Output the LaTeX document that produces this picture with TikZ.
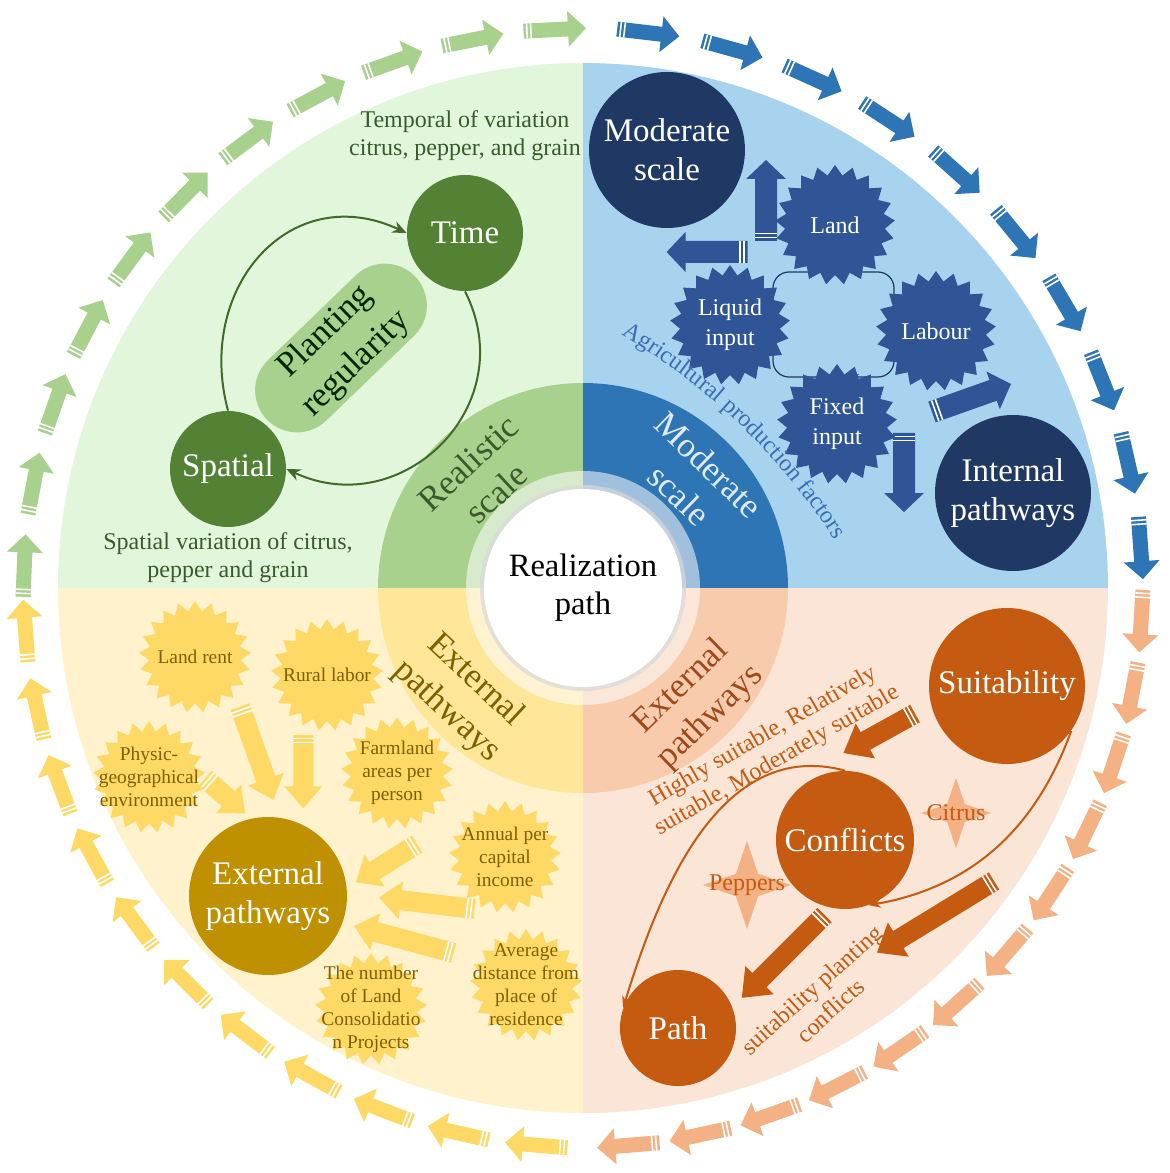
\documentclass[tikz,border=0pt]{standalone}
\usepackage{fontspec}
\setmainfont{Liberation Serif}
\usetikzlibrary{calc,positioning,arrows.meta,shapes.symbols,shapes.geometric,shapes.misc,decorations.text}

\definecolor{grnbg}{HTML}{E2F6DC}
\definecolor{grnring}{HTML}{A9D18E}
\definecolor{grndk}{HTML}{548235}
\definecolor{grntx}{HTML}{3B5A2B}
\definecolor{blubg}{HTML}{A7D3EF}
\definecolor{bluring}{HTML}{2E75B6}
\definecolor{bluarr}{HTML}{2E75B6}
\definecolor{navy}{HTML}{1F3864}
\definecolor{blustar}{HTML}{2F5597}
\definecolor{blutx}{HTML}{DEEBF7}
\definecolor{agritx}{HTML}{3A6DB3}
\definecolor{orgbg}{HTML}{FBE5D6}
\definecolor{orgring}{HTML}{F8CBAD}
\definecolor{orgdk}{HTML}{C55A11}
\definecolor{orgarr}{HTML}{F4B183}
\definecolor{orgtx}{HTML}{9C4A1A}
\definecolor{yelbg}{HTML}{FFF2CC}
\definecolor{yelring}{HTML}{FFE699}
\definecolor{yeldk}{HTML}{BF9000}
\definecolor{yelstar}{HTML}{FFD966}
\definecolor{yeltx}{HTML}{7F6000}

\newcommand{\fsz}[2]{\fontsize{#1}{#2}\selectfont}
% block arrow with striped tail: colour, tail, tip, half body, half head, head length
\newcommand{\blockarrow}[6]{%
  \coordinate (ba-t) at #2;
  \coordinate (ba-h) at #3;
  \coordinate (ba-b) at ($(ba-h)!#6!(ba-t)$);
  \coordinate (ba-s) at ($(ba-t)!1.7pt!(ba-h)$);
  \coordinate (ba-u) at ($(ba-t)!3.7pt!(ba-h)$);
  \fill[fill=#1] ($(ba-t)!#4!90:(ba-h)$) -- ($(ba-b)!#4!-90:(ba-t)$)
    -- ($(ba-b)!#5!-90:(ba-t)$) -- (ba-h) -- ($(ba-b)!#5!90:(ba-t)$)
    -- ($(ba-b)!#4!90:(ba-t)$) -- ($(ba-t)!#4!-90:(ba-h)$) -- cycle;
  \draw[white, line width=0.8pt] ($(ba-s)!#4!90:(ba-h)$) -- ($(ba-s)!#4!-90:(ba-h)$)
    ($(ba-u)!#4!90:(ba-h)$) -- ($(ba-u)!#4!-90:(ba-h)$);
}

\pgfdeclarelayer{front}
\pgfsetlayers{main,front}

\begin{document}
\begin{tikzpicture}[x=0.5pt, y=0.5pt,
  bigc/.style={circle, inner sep=0pt, text=white, align=center, font=\fsz{16.5}{19.5}},
  ringtx/.style={align=center, inner sep=0pt, font=\fsz{17.5}{21}},
  note/.style={align=center, inner sep=0pt, font=\fsz{12}{14}},
  burst/.style={starburst, starburst points=21, starburst point height=5pt, random starburst=0, inner sep=0pt, minimum size=#1},
  bursttx/.style={align=center, inner sep=0pt},
  fourstar/.style={star, star points=4, star point ratio=2.8, fill=orgarr, inner sep=0pt, minimum size=#1},
  pill/.style={rounded rectangle, fill=grnring, minimum width=105pt, minimum height=42pt, inner sep=1pt, align=center, font=\fsz{17.5}{22}, text=black!85!green},
  loopln/.style={draw=grndk!80!black, line width=1pt, -{Stealth[length=7pt,width=6pt]}},
  cyc/.style={draw=navy, line width=0.6pt, rounded corners=8pt, -{Stealth[length=4pt]}},
  orgln/.style={draw=orgdk, line width=1pt, -{Stealth[length=6pt]}}]
\useasboundingbox (-583,-585) rectangle (587,588);

\foreach \c/\a/\b in {blubg/0/90, grnbg/90/180, yelbg/180/270, orgbg/270/360}
  \fill[fill=\c] (0,0) -- (\a:525) arc (\a:\b:525) -- cycle;
\foreach \c/\a/\b in {bluring/0/90, grnring/90/180, yelring/180/270, orgring/270/360}
  \fill[fill=\c] (0,0) -- (\a:205) arc (\a:\b:205) -- cycle;
\fill[white, opacity=.55] (0,0) circle (117);
\draw[gray!30, line width=2pt, opacity=.7] (0,0) circle (101);
\node[circle, fill=white, minimum size=99pt, inner sep=0pt, align=center, font=\fsz{16.3}{19}] (realize) at (0,0) {Realization\\path};

% outer ring of arrows
\foreach \col/\a/\s/\n in {bluarr/83.3/8.8/9, orgarr/-3.4/7.45/11, yelstar/-94.8/8.08/10, grnring/177.7/8.48/10}
  \foreach \k in {0,...,\n}{
    \pgfmathsetmacro\ang{\a-\k*\s}
    \blockarrow{\col}{({\ang+3.2}:560)}{({\ang-3.2}:560)}{3.75pt}{9pt}{9pt}
  }

% green quadrant
\node[ringtx, text=grntx, rotate=43] (realistic) at (-101,110) {Realistic\\scale};
\node[note, text=grntx] (temporal) at (-118,452) {Temporal of variation\\citrus, pepper, and grain};
\node[note, text=grntx] (spatvar) at (-355,30) {Spatial variation of citrus,\\pepper and grain};
\node[pill, rotate=44] (planting) at (-242,240) {Planting\\regularity};
\node[bigc, fill=grndk, minimum size=58pt] (time) at (-118,355) {Time};
\node[bigc, fill=grndk, minimum size=58pt] (spatial) at (-355,119) {Spatial};
\path (spatial.north) edge[loopln, out=105, in=155, looseness=1.3] (time.west)
      (time.south) edge[loopln, out=-63, in=-25, looseness=1.3] (spatial.east);

% blue quadrant
\node[ringtx, text=blutx, rotate=-44] (moderate) at (111,108) {Moderate\\scale};
\node[bigc, fill=navy, minimum size=78pt] (modscale) at (84,438) {Moderate\\scale};
\node[bigc, fill=navy, minimum size=78pt] (internal) at (430,95) {Internal\\pathways};
\begin{pgfonlayer}{front}
\node[burst=60pt, fill=blustar] (land) at (252,363) {};
\node[burst=60pt, fill=blustar] (liquid) at (147,263) {};
\node[burst=60pt, fill=blustar] (labour) at (353,257) {};
\node[burst=60pt, fill=blustar] (fixed) at (254,164) {};
\node[bursttx, text=white, font=\fsz{12}{15}] (land-t) at (land) {Land};
\node[bursttx, text=white, font=\fsz{12}{15}] (liquid-t) at (liquid) {Liquid\\input};
\node[bursttx, text=white, font=\fsz{12}{15}] (labour-t) at (labour) {Labour};
\node[bursttx, text=white, font=\fsz{12}{15}] (fixed-t) at (fixed) {Fixed\\input};
\path[decorate, decoration={text along path, text align=center,
  text={|\fsz{12}{14}\color{agritx}|Agricultural production factors}}] (-288,-298) ++(62:641) arc (62:30:641);
\end{pgfonlayer}
\draw[cyc] ($(liquid)+(43,12)$) |- ($(land)+(-16,-47)$);
\draw[cyc] ($(land)+(16,-47)$) -| ($(labour)+(-42,16)$);
\draw[cyc] ($(labour)+(-42,-14)$) |- ($(fixed)+(14,47)$);
\draw[cyc] ($(fixed)+(-18,47)$) -| ($(liquid)+(43,-12)$);
\blockarrow{blustar}{(183,347)}{(183,428)}{5.5pt}{10pt}{9.5pt}
\blockarrow{blustar}{(164.5,336)}{(83.6,336)}{5.5pt}{10pt}{9.5pt}
\blockarrow{blustar}{(349,176)}{(428,204)}{5.5pt}{10pt}{9.5pt}
\blockarrow{blustar}{(321,155)}{(321,76)}{5.5pt}{10pt}{9.5pt}

% orange quadrant
\node[ringtx, text=orgtx, rotate=44] (extorg) at (113,-114) {External\\pathways};
\node[note, text=orgdk, rotate=30] (suitlvl) at (187,-161) {Highly suitable, Relatively\\suitable, Moderately suitable};
\node[note, text=orgdk, rotate=42] (suitconf) at (238,-412) {suitability planting\\conflicts};
\node[fourstar=35pt] (citrus) at (373,-225) {};
\node[note, text=orgdk] (citrus-t) at (citrus) {Citrus};
\node[fourstar=44pt] (peppers) at (164,-297) {};
\node[note, text=orgdk] (peppers-t) at (peppers) {Peppers};
\node[bigc, fill=orgdk, minimum size=78pt] (suit) at (424,-98) {Suitability};
\node[bigc, fill=orgdk, minimum size=69pt] (conf) at (262,-252) {Conflicts};
\node[bigc, fill=orgdk, minimum size=58pt] (path) at (95,-440) {Path};
\path (suit.-35) edge[orgln, out=-110, in=10] (conf.-70)
      (conf.north) edge[orgln, out=165, in=73] (path.160);
\blockarrow{orgdk}{(332,-125.6)}{(260.5,-165)}{5pt}{10pt}{12.5pt}
\blockarrow{orgdk}{(241.6,-327)}{(158.8,-409.8)}{5pt}{10pt}{12.5pt}
\blockarrow{orgdk}{(411,-293)}{(294,-364.6)}{5pt}{10pt}{12.5pt}

% yellow quadrant
\node[ringtx, text=yeltx, rotate=-43] (extyel) at (-122,-108) {External\\pathways};
\blockarrow{yelstar}{(-343,-118.7)}{(-309.7,-212)}{5pt}{9.5pt}{11pt}
\blockarrow{yelstar}{(-279.7,-147)}{(-279.7,-220.3)}{5pt}{9.5pt}{11pt}
\blockarrow{yelstar}{(-378,-190.3)}{(-338,-225.3)}{5pt}{9.5pt}{11pt}
\blockarrow{yelstar}{(-166,-256)}{(-227,-294.3)}{5pt}{9.5pt}{11pt}
\blockarrow{yelstar}{(-108.5,-321)}{(-204,-309.6)}{5pt}{9.5pt}{11pt}
\blockarrow{yelstar}{(-129.5,-365)}{(-229,-338)}{5pt}{9.5pt}{11pt}
\foreach \nm/\x/\y/\txt in {landrent/-388/-69/Land rent, rurallabor/-256/-87/Rural labor,
    physic/-434/-189/{Physic-\\geographical\\environment}, farmland/-186/-185/{Farmland\\areas per\\person},
    annual/-78/-269/{Annual per\\capital\\income}, average/-57/-397/{Average\\distance from\\place of\\residence},
    landcons/-212/-421/{The number\\of Land\\Consolidatio\\n Projects}}{
  \node[burst=56pt, fill=yelstar] (\nm) at (\x,\y) {};
  \node[bursttx, text=yeltx, font=\fsz{9.7}{11.5}] (\nm-t) at (\nm) {\txt};
}
\node[bigc, fill=yeldk, minimum size=79pt] (extpath) at (-315,-308) {External\\pathways};
\end{tikzpicture}
\end{document}
